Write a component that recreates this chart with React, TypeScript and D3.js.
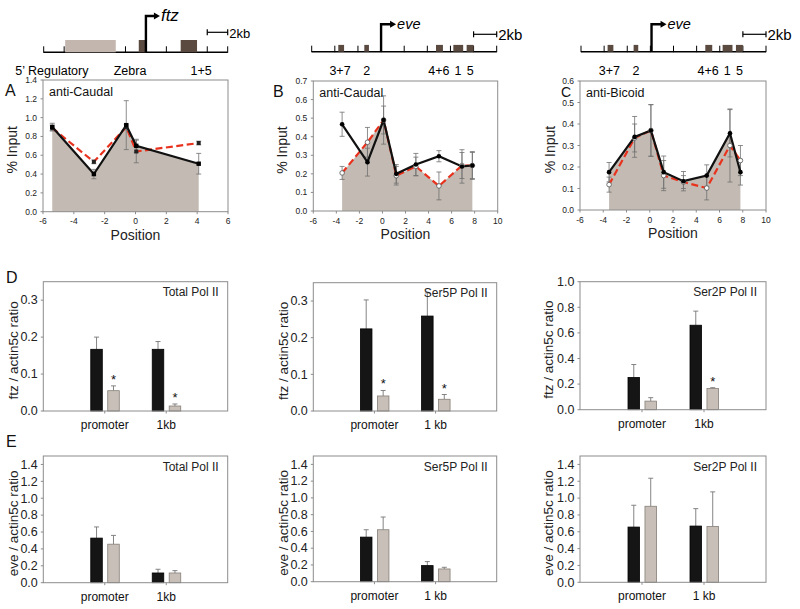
import React from 'react';
import * as d3 from 'd3';

const W = 800;
const H = 609;
const FONT = 'Liberation Sans, Arial, sans-serif';

// ---- gene maps ----
const ftzMapTicks = d3.range(0, 19, 2);
const ftzBlocks = [
  { start: 2.1, end: 7.05, dark: false },
  { start: 9.3, end: 10.0, dark: true },
  { start: 13.4, end: 15.0, dark: true }
];
const ftzLabels = ['5\u2019 Regulatory', 'Zebra', '1+5'];
const ftzLabelPos = [0.8, 8.45, 15.4];

const eveMapTicks = d3.range(-6, 11, 2);
const eveBlocks = [
  { start: -3.7, end: -3.2, dark: true },
  { start: -1.45, end: -1.05, dark: true },
  { start: 4.75, end: 5.35, dark: true },
  { start: 6.25, end: 7.1, dark: true },
  { start: 7.4, end: 8.0, dark: true }
];
const eveLabels = ['3+7', '2', '4+6', '1', '5'];
const eveLabelPos = [-3.55, -1.25, 5.0, 6.65, 7.7];

// ---- ChIP line charts ----
const ftzPos = [-5.4, -2.7, -0.6, 0.05, 4.1];
const aBlack = [0.9, 0.4, 0.92, 0.7, 0.51];
const aBlackErr = [0.04, 0.05, 0.26, 0.07, 0.11];
const aRed = [0.89, 0.53, 0.9, 0.64, 0.73];
const aRedErr = [0.03, 0.02, 0.03, 0.12, 0.02];

const evePos = [-3.5, -1.3, 0.1, 1.2, 2.9, 4.9, 6.9, 7.8];
const bBlack = [0.467, 0.263, 0.49, 0.2, 0.25, 0.295, 0.24, 0.245];
const bBlackErr = [0.065, 0.075, 0.13, 0.05, 0.06, 0.03, 0.09, 0.075];
const bRed = [0.205, 0.37, 0.49, 0.19, 0.24, 0.135, 0.245, 0.245];
const bRedErr = [0.035, 0.08, 0.075, 0.05, 0.05, 0.075, 0.07, 0.07];

const cBlack = [0.176, 0.34, 0.37, 0.176, 0.134, 0.16, 0.357, 0.176];
const cBlackErr = [0.045, 0.095, 0.12, 0.075, 0.045, 0.05, 0.11, 0.06];
const cRed = [0.118, 0.335, 0.37, 0.16, 0.13, 0.102, 0.3, 0.23];
const cRedErr = [0.035, 0.065, 0.12, 0.07, 0.03, 0.055, 0.17, 0.07];

const posTicksA = d3.range(-6, 7, 2);
const posTicksBC = d3.range(-6, 11, 2);
const yTicksA = d3.range(0, 1.41, 0.2);
const yTicksB = d3.range(0, 0.71, 0.1);
const yTicksC = d3.range(0, 0.61, 0.1);

// ---- Pol II bar charts ----
const catsA = ['promoter', '1kb'];
const catsB = ['promoter', '1 kb'];

const d1Black = [0.167, 0.167];
const d1BlackErr = [0.033, 0.021];
const d1Gray = [0.055, 0.0135];
const d1GrayErr = [0.013, 0.0055];
const d1Stars = [true, true];

const d2Black = [0.224, 0.259];
const d2BlackErr = [0.079, 0.063];
const d2Gray = [0.041, 0.032];
const d2GrayErr = [0.015, 0.013];
const d2Stars = [true, true];

const d3Black = [0.252, 0.66];
const d3BlackErr = [0.101, 0.11];
const d3Gray = [0.067, 0.166];
const d3GrayErr = [0.027, 0.006];
const d3Stars = [false, true];

const e1Black = [0.528, 0.115];
const e1BlackErr = [0.132, 0.044];
const e1Gray = [0.456, 0.115];
const e1GrayErr = [0.104, 0.028];

const e2Black = [0.532, 0.192];
const e2BlackErr = [0.088, 0.048];
const e2Gray = [0.62, 0.152];
const e2GrayErr = [0.152, 0.02];

const e3Black = [0.656, 0.668];
const e3BlackErr = [0.259, 0.207];
const e3Gray = [0.903, 0.664];
const e3GrayErr = [0.333, 0.41];

const noStars = [false, false];
const yTicksD12 = [0, 0.1, 0.2, 0.3];
const yTicksD3 = d3.range(0, 1.01, 0.2);
const yTicksE = d3.range(0, 1.41, 0.2);

const fmt = d3.format('.1f');
const FILL = '#c3bbb3';
const DARK = '#5a4a40';
const FRAME = '#8c8c8c';

function GeneMap(p: any) {
  const x = d3.scaleLinear().domain(p.domain).range([p.left, p.right]);
  const by = p.baseY;
  const ax = x(p.arrowAt);
  const sx0 = x(p.domain[1] - 2);
  const sx1 = x(p.domain[1]);
  const sy = by - p.barRise;
  return (
    <g>
      <line x1={x(p.domain[0])} x2={x(p.domain[1])} y1={by} y2={by} stroke="#000" strokeWidth={1.4} />
      {p.ticks.map((t: number) => (
        <line key={t} x1={x(t)} x2={x(t)} y1={by - 6} y2={by + 0.5} stroke="#000" strokeWidth={1} />
      ))}
      {p.blocks.map((b: any, i: number) => (
        <rect key={i} x={x(b.start)} width={x(b.end) - x(b.start)} y={by - p.blockH} height={p.blockH}
          fill={b.dark ? DARK : '#c3b6ae'} />
      ))}
      <path d={`M${ax},${by} V${p.arrowTop} H${ax + p.arrowLen}`} fill="none" stroke="#000" strokeWidth={2.4} />
      <path d={`M${ax + p.arrowLen - 1},${p.arrowTop - 3.5} L${ax + p.arrowLen + 5},${p.arrowTop} L${ax + p.arrowLen - 1},${p.arrowTop + 3.5} Z`} fill="#000" />
      <text x={ax + p.arrowLen + p.geneDx} y={p.arrowTop + 5} fontStyle="italic" fontSize={p.geneSize} fontFamily={FONT}>{p.gene}</text>
      <line x1={sx0} x2={sx1} y1={sy} y2={sy} stroke="#000" strokeWidth={1.2} />
      <line x1={sx0} x2={sx0} y1={sy - 3} y2={sy + 3} stroke="#000" strokeWidth={1.2} />
      <line x1={sx1} x2={sx1} y1={sy - 3} y2={sy + 3} stroke="#000" strokeWidth={1.2} />
      <text x={sx1 + 1.5} y={sy + 6} fontSize={p.kbSize} fontFamily={FONT}>2kb</text>
      {p.labels.map((l: string, i: number) => (
        <text key={l} x={x(p.labelPos[i])} y={p.labelY} fontSize={12.5} textAnchor="middle" fontFamily={FONT}>{l}</text>
      ))}
    </g>
  );
}

function LinePanel(p: any) {
  const x = d3.scaleLinear().domain(p.xDomain).range([p.left, p.right]);
  const y = d3.scaleLinear().domain([0, p.yMax]).range([p.bottom, p.top]);
  const pts = (vals: number[]) => p.pos.map((d: number, i: number) => [d, vals[i]] as [number, number]);
  const line = d3.line<[number, number]>().x(d => x(d[0])).y(d => y(d[1]));
  const area = d3.area<[number, number]>().x(d => x(d[0])).y0(y(0)).y1(d => y(d[1]));
  const fillVals = p.fillRed ? p.red : p.black;
  const err = (vals: number[], errs: number[], key: string) =>
    p.pos.map((d: number, i: number) => {
      const cx = x(d);
      const y0 = y(vals[i] - errs[i]);
      const y1 = y(vals[i] + errs[i]);
      return (
        <g key={key + i} stroke="#707070" strokeWidth={0.8}>
          <line x1={cx} x2={cx} y1={y0} y2={y1} />
          <line x1={cx - 2.5} x2={cx + 2.5} y1={y0} y2={y0} />
          <line x1={cx - 2.5} x2={cx + 2.5} y1={y1} y2={y1} />
        </g>
      );
    });
  return (
    <g fontFamily={FONT}>
      <path d={area(pts(fillVals)) || ''} fill={FILL} />
      {err(p.black, p.blackErr, 'b')}
      {err(p.red, p.redErr, 'r')}
      <path d={line(pts(p.red)) || ''} fill="none" stroke="#e8321e" strokeWidth={2.2} strokeDasharray="7,3.5" />
      <path d={line(pts(p.black)) || ''} fill="none" stroke="#111" strokeWidth={2.2} />
      {p.pos.map((d: number, i: number) =>
        p.squares ? (
          <g key={'m' + i}>
            <rect x={x(d) - 2} y={y(p.red[i]) - 2} width={4} height={4} fill="#222" />
            <rect x={x(d) - 2.2} y={y(p.black[i]) - 2.2} width={4.4} height={4.4} fill="#000" />
          </g>
        ) : (
          <g key={'m' + i}>
            <circle cx={x(d)} cy={y(p.red[i])} r={2.3} fill="#fff" stroke="#555" strokeWidth={0.8} />
            <circle cx={x(d)} cy={y(p.black[i])} r={2.3} fill="#000" />
          </g>
        )
      )}
      <rect x={p.left} y={p.top} width={p.right - p.left} height={p.bottom - p.top} fill="none" stroke={FRAME} strokeWidth={1} />
      {p.yTicks.map((t: number) => (
        <g key={'y' + t}>
          <line x1={p.left - 2.5} x2={p.left} y1={y(t)} y2={y(t)} stroke={FRAME} />
          <text x={p.left - 6} y={y(t) + 3} fontSize={8.5} textAnchor="end" fill="#222">{fmt(t)}</text>
        </g>
      ))}
      {p.xTicks.map((t: number) => (
        <g key={'x' + t}>
          <line x1={x(t)} x2={x(t)} y1={p.bottom} y2={p.bottom + 2.5} stroke={FRAME} />
          <text x={x(t)} y={p.bottom + 12.5} fontSize={8.5} textAnchor="middle" fill="#222">{t}</text>
        </g>
      ))}
      <text x={(p.left + p.right) / 2} y={p.bottom + 28} fontSize={14} textAnchor="middle" fill="#222">Position</text>
      <text transform={`translate(${p.yLabelX},${(p.top + p.bottom) / 2 + 4}) rotate(-90)`} fontSize={14} textAnchor="middle" fill="#222">% Input</text>
      <text x={p.left + 6} y={p.top + 15.5} fontSize={12.5} fill="#111">{p.label}</text>
      <text x={p.letterX} y={p.top + 16} fontSize={p.letterSize} fill="#111">{p.letter}</text>
    </g>
  );
}

function BarPanel(p: any) {
  const x = d3.scalePoint<string>().domain(p.cats).range([p.left, p.right]).padding(1);
  const sub = d3.scaleBand<string>().domain(['black', 'gray']).range([-14, 14.5]).paddingInner(0.32);
  const y = d3.scaleLinear().domain([0, p.yMax]).range([p.bottom, p.top]);
  const bw = sub.bandwidth();
  const bars = (vals: number[], errs: number[], key: string) =>
    p.cats.map((c: string, i: number) => {
      const bx = (x(c) as number) + (sub(key) as number);
      const cx = bx + bw / 2;
      const top = y(vals[i] + errs[i]);
      return (
        <g key={key + c}>
          <line x1={cx} x2={cx} y1={y(vals[i])} y2={top} stroke="#777" strokeWidth={0.9} />
          <line x1={cx - 2.5} x2={cx + 2.5} y1={top} y2={top} stroke="#777" strokeWidth={0.9} />
          <rect x={bx} y={y(vals[i])} width={bw} height={y(0) - y(vals[i])}
            fill={key === 'black' ? '#151515' : '#c8c0b8'} stroke={key === 'black' ? '#000' : '#857e78'} strokeWidth={0.8} />
          {key === 'gray' && p.stars[i] ? (
            <text x={cx} y={top - 2} fontSize={13} textAnchor="middle" fill="#111">*</text>
          ) : null}
        </g>
      );
    });
  return (
    <g fontFamily={FONT}>
      {bars(p.black, p.blackErr, 'black')}
      {bars(p.gray, p.grayErr, 'gray')}
      <rect x={p.left} y={p.top} width={p.right - p.left} height={p.bottom - p.top} fill="none" stroke={FRAME} strokeWidth={1} />
      {p.yTicks.map((t: number) => (
        <g key={'y' + t}>
          <line x1={p.left - 2.5} x2={p.left} y1={y(t)} y2={y(t)} stroke={FRAME} />
          <text x={p.left - 5.5} y={y(t) + 4.3} fontSize={12.5} textAnchor="end" fill="#222">{fmt(t)}</text>
        </g>
      ))}
      {p.cats.map((c: string) => (
        <g key={'c' + c}>
          <line x1={x(c)} x2={x(c)} y1={p.bottom} y2={p.bottom + 2.5} stroke={FRAME} />
          <text x={x(c)} y={p.bottom + 18} fontSize={12} textAnchor="middle" fill="#111">{c}</text>
        </g>
      ))}
      <text x={p.right - 9} y={p.top + 14.5} fontSize={12} textAnchor="end" fill="#222">{p.title}</text>
      <text transform={`translate(${p.yLabelX},${(p.top + p.bottom) / 2 + 4}) rotate(-90)`} fontSize={13.5} textAnchor="middle" fill="#222">{p.yLabel}</text>
    </g>
  );
}

export default function App() {
  const ftzLabel = 'ftz / actin5c ratio';
  const eveLabel = 'eve / actin5c ratio';
  return (
    <svg width={W} height={H} style={{ position: 'absolute', left: 0, top: 0, background: '#fff' }}>
      <rect width={W} height={H} fill="#fff" />
      <GeneMap left={43.7} right={227.7} domain={[0, 18]} ticks={ftzMapTicks} baseY={52.3} blocks={ftzBlocks}
        blockH={12.3} arrowAt={10} arrowTop={16} arrowLen={9} gene="ftz" geneDx={6} geneSize={17}
        barRise={20} kbSize={13} labels={ftzLabels} labelPos={ftzLabelPos} labelY={75} />
      <GeneMap left={311.7} right={496.7} domain={[-6, 10]} ticks={eveMapTicks} baseY={51.7} blocks={eveBlocks}
        blockH={6.8} arrowAt={0} arrowTop={24.3} arrowLen={10} gene="eve" geneDx={6} geneSize={14.5}
        barRise={17.4} kbSize={15} labels={eveLabels} labelPos={eveLabelPos} labelY={75} />
      <GeneMap left={581} right={766} domain={[-6, 10]} ticks={eveMapTicks} baseY={51.7} blocks={eveBlocks}
        blockH={6.8} arrowAt={0.1} arrowTop={24.3} arrowLen={10} gene="eve" geneDx={6} geneSize={14.5}
        barRise={17.4} kbSize={15} labels={eveLabels} labelPos={eveLabelPos} labelY={75} />

      <LinePanel left={43} right={228} top={80} bottom={211.7} xDomain={[-6, 6]} xTicks={posTicksA}
        yMax={1.4} yTicks={yTicksA} pos={ftzPos} black={aBlack} blackErr={aBlackErr} red={aRed} redErr={aRedErr}
        fillRed={false} squares={true} label="anti-Caudal" letter="A" letterX={5} letterSize={16} yLabelX={17} />
      <LinePanel left={313.3} right={497.7} top={81} bottom={211} xDomain={[-6, 10]} xTicks={posTicksBC}
        yMax={0.7} yTicks={yTicksB} pos={evePos} black={bBlack} blackErr={bBlackErr} red={bRed} redErr={bRedErr}
        fillRed={true} squares={false} label="anti-Caudal" letter="B" letterX={273} letterSize={16} yLabelX={287} />
      <LinePanel left={580} right={766} top={81} bottom={210} xDomain={[-6, 10]} xTicks={posTicksBC}
        yMax={0.6} yTicks={yTicksC} pos={evePos} black={cBlack} blackErr={cBlackErr} red={cRed} redErr={cRedErr}
        fillRed={false} squares={false} label="anti-Bicoid" letter="C" letterX={561} letterSize={14} yLabelX={555} />

      <text x={6} y={283} fontSize={16} fontFamily={FONT} fill="#111">D</text>
      <BarPanel left={43.3} right={227.7} top={281.7} bottom={411} yMax={0.35} yTicks={yTicksD12} cats={catsA}
        black={d1Black} blackErr={d1BlackErr} gray={d1Gray} grayErr={d1GrayErr} stars={d1Stars}
        title="Total Pol II" yLabel={ftzLabel} yLabelX={17.5} />
      <BarPanel left={313.3} right={496.7} top={282.7} bottom={411} yMax={0.35} yTicks={yTicksD12} cats={catsB}
        black={d2Black} blackErr={d2BlackErr} gray={d2Gray} grayErr={d2GrayErr} stars={d2Stars}
        title="Ser5P Pol II" yLabelX={287.5} yLabel={ftzLabel} />
      <BarPanel left={580} right={766} top={281.7} bottom={409.7} yMax={1.0} yTicks={yTicksD3} cats={catsA}
        black={d3Black} blackErr={d3BlackErr} gray={d3Gray} grayErr={d3GrayErr} stars={d3Stars}
        title="Ser2P Pol II" yLabelX={552.5} yLabel={ftzLabel} />

      <text x={6} y={447} fontSize={16} fontFamily={FONT} fill="#111">E</text>
      <BarPanel left={43.3} right={227.7} top={456} bottom={582.7} yMax={1.5} yTicks={yTicksE} cats={catsA}
        black={e1Black} blackErr={e1BlackErr} gray={e1Gray} grayErr={e1GrayErr} stars={noStars}
        title="Total Pol II" yLabel={eveLabel} yLabelX={17.5} />
      <BarPanel left={313.3} right={496.7} top={456} bottom={581.7} yMax={1.5} yTicks={yTicksE} cats={catsB}
        black={e2Black} blackErr={e2BlackErr} gray={e2Gray} grayErr={e2GrayErr} stars={noStars}
        title="Ser5P Pol II" yLabel={eveLabel} yLabelX={287.5} />
      <BarPanel left={580} right={766} top={456} bottom={582.3} yMax={1.5} yTicks={yTicksE} cats={catsB}
        black={e3Black} blackErr={e3BlackErr} gray={e3Gray} grayErr={e3GrayErr} stars={noStars}
        title="Ser2P Pol II" yLabel={eveLabel} yLabelX={552.5} />
    </svg>
  );
}
